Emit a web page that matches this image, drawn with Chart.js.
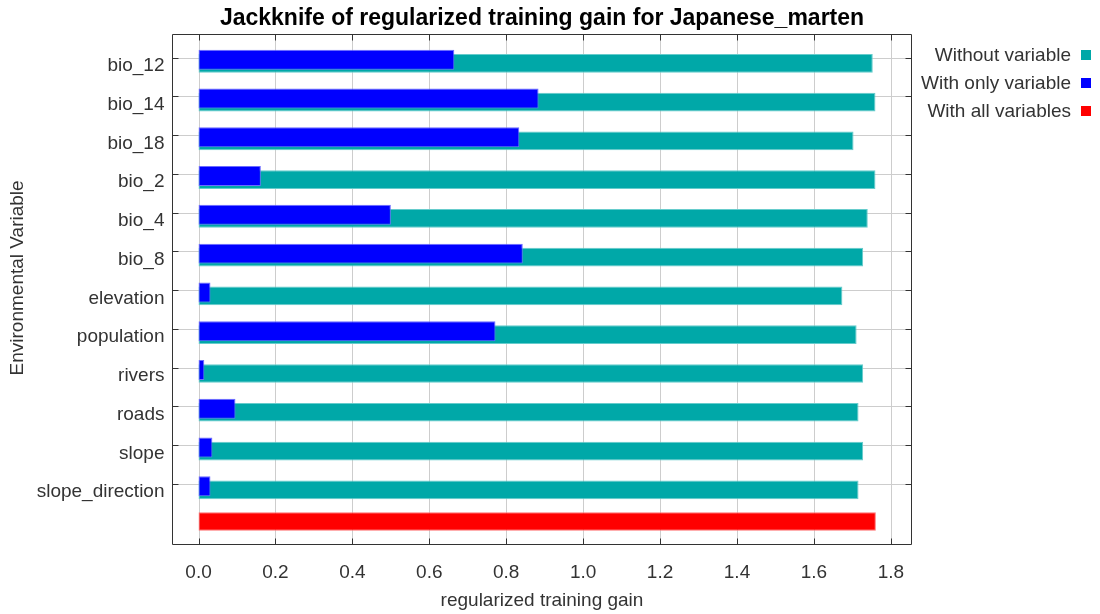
<!DOCTYPE html>
<html>
<head>
<meta charset="utf-8">
<script src="https://cdn.jsdelivr.net/npm/chart.js@4.4.1/dist/chart.umd.min.js"></script>
<style>
  html, body { margin: 0; padding: 0; background: #fff; }
  #wrap { position: relative; width: 1100px; height: 614px; }
  #legend {
    position: absolute; right: 9px; top: 41px;
    font: 19px "Liberation Sans", Arial, sans-serif; color: #333;
  }
  .item { display: flex; justify-content: flex-end; align-items: center; height: 28px; white-space: nowrap; }
  .sw { display: inline-block; width: 10px; height: 10px; margin-left: 10px; }
</style>
</head>
<body>
<div id="wrap">
  <canvas id="c" width="1100" height="614"></canvas>
  <div id="legend"></div>
</div>
<script>
// Jackknife results: regularized training gain per environmental variable
const variables = ['bio_12', 'bio_14', 'bio_18', 'bio_2', 'bio_4', 'bio_8',
  'elevation', 'population', 'rivers', 'roads', 'slope', 'slope_direction'];
const withoutVariable = [1.753, 1.760, 1.703, 1.760, 1.740, 1.728,
  1.674, 1.711, 1.728, 1.716, 1.728, 1.716];
const withOnlyVariable = [0.665, 0.884, 0.834, 0.162, 0.500, 0.843,
  0.031, 0.772, 0.015, 0.096, 0.036, 0.031];
const withAllVariables = 1.761;
const gainTicks = [0, 0.2, 0.4, 0.6, 0.8, 1.0, 1.2, 1.4, 1.6, 1.8];
const seriesNames = ['Without variable', 'With only variable', 'With all variables'];
const seriesColors = ['#00a8a8', '#0000ff', '#ff0000'];
const seriesEdges = ['#66cccc', '#6b6bff', '#ff7070'];
const yTitle = 'Environmental Variable';

// one extra unlabeled row at the bottom holds the all-variables bar
const rowLabels = [...variables, ''];
const allRow = rowLabels.map((_, i) => (i === variables.length ? withAllVariables : null));
const onlyRow = [...withOnlyVariable, null];
const withoutRow = [...withoutVariable, null];

const FONT = '"Liberation Sans", Arial, sans-serif';
Chart.defaults.font.family = FONT;
Chart.defaults.font.size = 19;
Chart.defaults.color = '#333';

// ticks sit slightly above the row centre, as in the Maxent layout
const TICK_SHIFT = 2.25;

const plotFrame = {
  id: 'plotFrame',
  beforeDatasetsDraw(chart) {
    const { ctx, chartArea: a, scales: { x, y } } = chart;
    const left = Math.round(a.left) + 0.5;
    const right = Math.round(a.right) - 0.5;
    const top = Math.round(a.top - 6) + 0.5;
    const bottom = Math.round(a.bottom + 1) - 0.5;
    const tick = 6;
    ctx.save();
    ctx.lineWidth = 1;
    // grid
    ctx.strokeStyle = '#cdcdcd';
    ctx.beginPath();
    gainTicks.forEach(v => {
      const px = Math.round(x.getPixelForValue(v)) + 0.5;
      ctx.moveTo(px, top); ctx.lineTo(px, bottom);
    });
    variables.forEach((_, i) => {
      const py = Math.round(y.getPixelForValue(i) - TICK_SHIFT) + 0.5;
      ctx.moveTo(left, py); ctx.lineTo(right, py);
    });
    ctx.stroke();
    // frame and inward tick marks
    ctx.strokeStyle = '#333';
    ctx.beginPath();
    ctx.rect(left, top, right - left, bottom - top);
    gainTicks.forEach(v => {
      const px = Math.round(x.getPixelForValue(v)) + 0.5;
      ctx.moveTo(px, top); ctx.lineTo(px, top + tick);
      ctx.moveTo(px, bottom); ctx.lineTo(px, bottom - tick);
    });
    variables.forEach((_, i) => {
      const py = Math.round(y.getPixelForValue(i) - TICK_SHIFT) + 0.5;
      ctx.moveTo(left, py); ctx.lineTo(left + tick, py);
      ctx.moveTo(right, py); ctx.lineTo(right - tick, py);
    });
    ctx.stroke();
    ctx.restore();
  },
  afterDraw(chart) {
    // vertical axis title, centred on the variable rows
    const { ctx, chartArea: a } = chart;
    ctx.save();
    ctx.font = '19px ' + FONT;
    ctx.fillStyle = '#333';
    ctx.textAlign = 'center';
    ctx.textBaseline = 'middle';
    ctx.translate(18, (a.top + a.bottom) / 2 - 14.5);
    ctx.rotate(-Math.PI / 2);
    ctx.fillText(yTitle, 0, 0);
    ctx.restore();
  }
};

const barCommon = { categoryPercentage: 0.2747, borderWidth: 1, borderSkipped: false };

const chart = new Chart(document.getElementById('c'), {
  type: 'bar',
  data: {
    labels: rowLabels,
    datasets: [
      { ...barCommon, label: seriesNames[2], data: allRow, stack: 'all', order: 0,
        barPercentage: 5.18, backgroundColor: seriesColors[2], borderColor: seriesEdges[2] },
      { ...barCommon, label: seriesNames[1], data: onlyRow, stack: 'only', order: 1,
        barPercentage: 5.63, backgroundColor: seriesColors[1], borderColor: seriesEdges[1] },
      { ...barCommon, label: seriesNames[0], data: withoutRow, stack: 'without', order: 2,
        barPercentage: 5.27, backgroundColor: seriesColors[0], borderColor: seriesEdges[0] }
    ]
  },
  options: {
    indexAxis: 'y',
    responsive: false,
    animation: false,
    devicePixelRatio: 1,
    layout: { padding: { left: 0, right: 188, top: 0, bottom: 0 } },
    plugins: {
      legend: { display: false },
      tooltip: { enabled: false },
      title: {
        display: true,
        fullSize: false,
        text: 'Jackknife of regularized training gain for Japanese_marten',
        color: '#000',
        font: { family: FONT, size: 23, weight: 'bold' },
        padding: { top: 4.7, bottom: 8.1 }
      }
    },
    scales: {
      x: {
        type: 'linear',
        min: -0.069,
        max: 1.855,
        stacked: false,
        grid: { display: false, drawTicks: false },
        border: { display: false },
        afterBuildTicks: s => { s.ticks = gainTicks.map(v => ({ value: v })); },
        afterFit: s => { s.height = 69.6; },
        ticks: {
          autoSkip: false, maxRotation: 0, padding: 16.5,
          callback: v => Number(v).toFixed(1)
        },
        title: {
          display: true, text: 'regularized training gain',
          padding: { top: 6.2, bottom: 1.6 }
        }
      },
      y: {
        type: 'category',
        grid: { display: false, drawTicks: false },
        border: { display: false },
        afterFit: s => { s.width = 172; },
        ticks: { autoSkip: false, padding: 7.5, labelOffset: 6 }
      }
    }
  },
  plugins: [plotFrame]
});

// legend: label text on the left, colour square on the right
const legendEl = document.getElementById('legend');
[0, 1, 2].forEach(k => {
  const row = document.createElement('div');
  row.className = 'item';
  const t = document.createElement('span');
  t.textContent = seriesNames[k];
  const sw = document.createElement('span');
  sw.className = 'sw';
  sw.style.background = seriesColors[k];
  row.appendChild(t);
  row.appendChild(sw);
  legendEl.appendChild(row);
});
</script>
</body>
</html>
